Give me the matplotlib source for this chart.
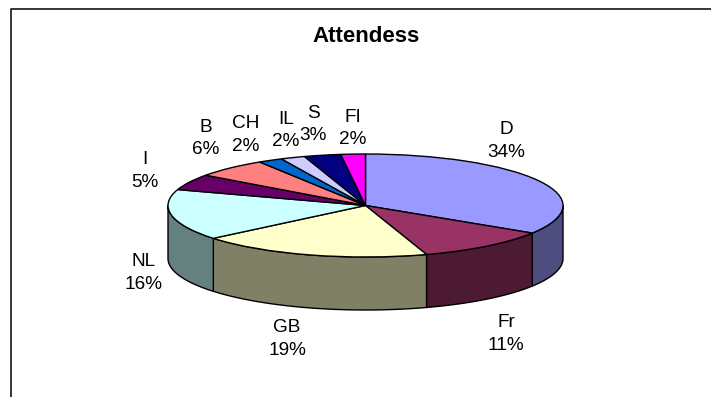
import numpy as np
import matplotlib
matplotlib.use("Agg")
import matplotlib.pyplot as plt
from matplotlib.patches import Polygon

plt.rcParams["font.family"] = ["Liberation Sans", "DejaVu Sans"]

# Conference attendance by country
countries = ["D", "Fr", "GB", "NL", "I", "B", "CH", "IL", "S", "FI"]
shares = [34, 11, 19, 16, 5, 6, 2, 2, 3, 2]
colors = ["#9999FF", "#993366", "#FFFFCC", "#CCFFFF", "#660066",
          "#FF8080", "#0066CC", "#CCCCFF", "#000080", "#FF00FF"]
title = "Attendess"

W, H = 711, 397
CX, CY = 365.5, 205.5      # centre of the pie's top face, pixels from top-left
RX, RY = 197.5, 51.5       # projected radii of the top face
DEPTH = 53 / RY            # wall height in units of the vertical radius

fig = plt.figure(figsize=(W / 100, H / 100), dpi=100, facecolor="white")
ax = fig.add_axes([0, 0, 1, 1])


def shade(color):
    r, g, b = matplotlib.colors.to_rgb(color)
    return (r / 2, g / 2, b / 2)


# Top face: a unit pie squashed by the anisotropic axes limits
wedges, _ = ax.pie(shares, colors=colors, startangle=90, counterclock=False,
                   radius=1.0, normalize=True,
                   wedgeprops=dict(edgecolor="black", linewidth=1.0, zorder=3))
ax.set_aspect("auto")
ax.set_xlim(-CX / RX, (W - CX) / RX)
ax.set_ylim(-(H - CY) / RY, CY / RY)
ax.set_axis_off()

# Side walls: only the part of each slice on the near half of the rim shows
edges = np.cumsum([0] + shares) / sum(shares) * 360.0   # clockwise from 12 o'clock
for start, stop, color in zip(edges[:-1], edges[1:], colors):
    a, b = max(start, 90.0), min(stop, 270.0)
    if b <= a:
        continue
    t = np.radians(np.linspace(a, b, 60))
    x, y = np.sin(t), np.cos(t)
    verts = np.r_[np.c_[x, y], np.c_[x, y - DEPTH][::-1]]
    ax.add_patch(Polygon(verts, closed=True, facecolor=shade(color),
                         edgecolor="black", linewidth=1.0, zorder=2))

# Outer frame: left and top rules only, both running off the canvas
fig.add_artist(plt.Line2D([10.5 / W, 10.5 / W, 1.0],
                          [0, 1 - 8.5 / H, 1 - 8.5 / H],
                          color="black", linewidth=1.1))

fig.text(366.5 / W, 1 - 37 / H, title, ha="center", va="center",
         fontsize=16, fontweight="bold")

# Category and percentage labels
label_px = {"D": (506, 141), "Fr": (506, 334), "GB": (287, 339), "NL": (144, 273),
            "I": (145, 171), "B": (206, 138.5), "CH": (246, 135), "IL": (286, 130.5),
            "S": (313, 124.5), "FI": (353, 128.5)}
for name, share in zip(countries, shares):
    px, py = label_px[name]
    fig.text(px / W, 1 - py / H, f"{name}\n{share}%", ha="center", va="center",
             fontsize=13.7, linespacing=1.45)

fig.savefig("out.png", dpi=100)
